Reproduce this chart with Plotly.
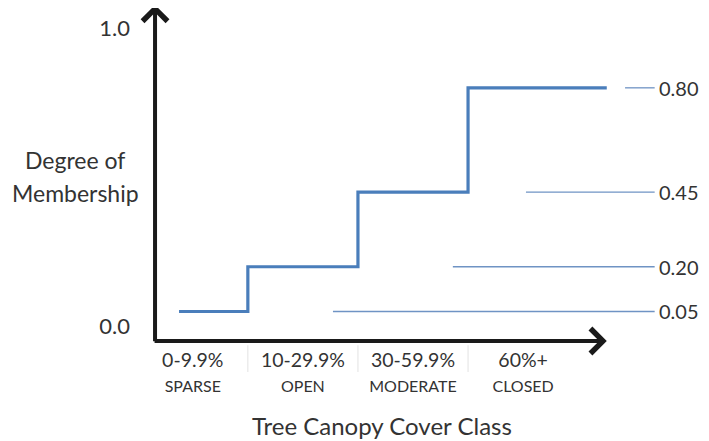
import numpy as np
import plotly.graph_objects as go

# ---- data ----
classes = ["SPARSE", "OPEN", "MODERATE", "CLOSED"]
cover_ranges = ["0-9.9%", "10-29.9%", "30-59.9%", "60%+"]
membership = [0.05, 0.20, 0.45, 0.80]
y_tick_vals = [0.0, 1.0]
y_tick_text = ["0.0", "1.0"]

# ---- styling / layout constants ----
FONT = "Lato, 'Open Sans', sans-serif"
TXT = "#333333"
STEP_C = "#4a7ebb"
GUIDE_C = "#6f93c4"
AX_C = "#1a1a1a"
OFF = 8                      # page body margin
W, H = 709 - OFF, 441 - OFF
XR = [-1.6785, 4.6885]
YR = [-0.3843, 1.0677]


def px(sx):
    return (sx - OFF) / W


def py(sy):
    return 1 - (sy - OFF) / H


idx = np.arange(len(classes))
edges = idx[1:] - 0.5
step_x = [idx[0] - 0.125] + list(edges) + [idx[-1] + 0.76]
step_y = membership + [membership[-1]]

guide_start = [1.273, 2.362, 3.026, 3.926]
guide_end = 4.195
label_x = 4.228

y_axis_x = -0.343
x_axis_y = -0.049
x_arrow_end = 3.76
y_arrow_end = 1.078

fig = go.Figure()

# separators between category labels
for e in edges:
    fig.add_trace(go.Scatter(x=[e, e], y=[-0.063, -0.153], mode="lines",
                             line=dict(color="#e2e2e2", width=1),
                             hoverinfo="skip", showlegend=False))

# guide lines to the value labels
for m, gs in zip(membership, guide_start):
    fig.add_trace(go.Scatter(x=[gs, guide_end], y=[m, m], mode="lines",
                             line=dict(color=GUIDE_C, width=1.3),
                             hoverinfo="skip", showlegend=False))

# membership staircase
fig.add_trace(go.Scatter(x=step_x, y=step_y, mode="lines",
                         line=dict(color=STEP_C, width=3.2, shape="hv"),
                         showlegend=False))

annotations = []
# axis arrows
annotations.append(dict(x=x_arrow_end, y=x_axis_y, ax=y_axis_x - 0.018, ay=x_axis_y,
                        xref="x", yref="y", axref="x", ayref="y", text="",
                        showarrow=True, arrowhead=4, arrowsize=1.2, arrowwidth=4,
                        arrowcolor=AX_C, standoff=0))
annotations.append(dict(x=y_axis_x, y=y_arrow_end, ax=y_axis_x, ay=x_axis_y - 0.006,
                        xref="x", yref="y", axref="x", ayref="y", text="",
                        showarrow=True, arrowhead=4, arrowsize=1.2, arrowwidth=4,
                        arrowcolor=AX_C, standoff=0))
# value labels
for m in membership:
    annotations.append(dict(x=label_x, y=m, xref="x", yref="y", text=f"{m:.2f}",
                            showarrow=False, xanchor="left", yanchor="middle",
                            borderpad=0,
                            font=dict(family=FONT, size=20, color=TXT)))
# y title
annotations.append(dict(x=px(75), y=py(160), xref="paper", yref="paper",
                        text="Degree of", showarrow=False,
                        xanchor="center", yanchor="middle",
                        font=dict(family=FONT, size=23, color=TXT)))
annotations.append(dict(x=px(75), y=py(193), xref="paper", yref="paper",
                        text="Membership", showarrow=False,
                        xanchor="center", yanchor="middle",
                        font=dict(family=FONT, size=23, color=TXT)))
# x title
annotations.append(dict(x=px(382), y=py(425), xref="paper", yref="paper",
                        text="Tree Canopy Cover Class", showarrow=False,
                        xanchor="center", yanchor="middle",
                        font=dict(family=FONT, size=24, color=TXT)))

tick_text = [f"{r}<br><span style='font-size:16px'>{c}</span>"
             for r, c in zip(cover_ranges, classes)]

fig.update_layout(
    width=W, height=H, margin=dict(l=0, r=0, t=0, b=0, autoexpand=False),
    paper_bgcolor="white", plot_bgcolor="white",
    showlegend=False, annotations=annotations,
    xaxis=dict(range=XR, showgrid=False, zeroline=False, showline=False,
               tickvals=list(idx), ticktext=tick_text, ticks="",
               anchor="free", position=py(341), side="bottom",
               ticklabelstandoff=5,
               tickfont=dict(family=FONT, size=19.5, color=TXT)),
    yaxis=dict(range=YR, showgrid=False, zeroline=False, showline=False,
               tickvals=y_tick_vals, ticktext=y_tick_text, ticks="",
               anchor="free", position=px(130), side="left",
               tickfont=dict(family=FONT, size=22, color=TXT)),
)

fig.write_html("out.html")
